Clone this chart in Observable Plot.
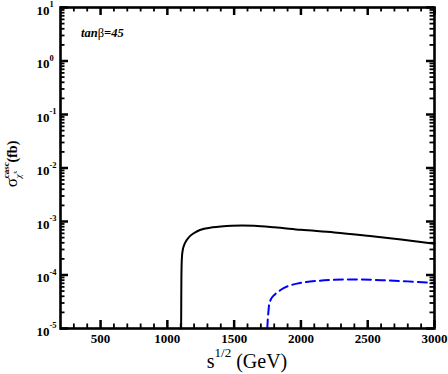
<!DOCTYPE html>
<html>
<head>
<meta charset="utf-8">
<script src="https://cdn.jsdelivr.net/npm/d3@7"></script>
<script src="https://cdn.jsdelivr.net/npm/@observablehq/plot@0.6"></script>
<style>
  html, body { margin: 0; padding: 0; background: #fff; }
  #chart svg { display: block; }
</style>
</head>
<body>
<div id="chart"></div>
<script>
// Solid black curve (sqrt(s) in GeV, sigma in fb)
const blackX = [1103, 1104, 1105, 1107, 1110, 1115, 1125, 1145, 1175, 1220, 1275, 1340, 1400, 1480, 1560, 1650, 1800, 2000, 2250, 2500, 2750, 3000];
const blackY = [1e-5, 3e-5, 8e-5, 1.6e-4, 2.3e-4, 2.9e-4, 3.6e-4, 4.5e-4, 5.5e-4, 6.5e-4, 7.3e-4, 7.8e-4, 8.1e-4, 8.35e-4, 8.4e-4, 8.3e-4, 7.8e-4, 7.0e-4, 6.25e-4, 5.4e-4, 4.6e-4, 3.85e-4];
// Dashed blue curve
const blueX = [1748, 1752, 1757, 1762, 1775, 1795, 1812, 1850, 1910, 1970, 2040, 2130, 2240, 2350, 2450, 2600, 2800, 3000];
const blueY = [1e-5, 1.5e-5, 2.1e-5, 2.8e-5, 3.5e-5, 4.1e-5, 4.5e-5, 5.3e-5, 6.3e-5, 6.9e-5, 7.4e-5, 7.8e-5, 8.1e-5, 8.25e-5, 8.25e-5, 8.0e-5, 7.6e-5, 7.1e-5];

// Ticks
const xDomain = [200, 3000];
const xMajor = [500, 1000, 1500, 2000, 2500, 3000];
const xMinor = [300, 400, 600, 700, 800, 900, 1100, 1200, 1300, 1400, 1600, 1700, 1800, 1900, 2100, 2200, 2300, 2400, 2600, 2700, 2800, 2900];
const yDomain = [1e-5, 10];
const yMajor = [1e-5, 1e-4, 1e-3, 1e-2, 1e-1, 1, 10];
const yMinorMantissa = [2, 3, 4, 5, 6, 7, 8, 9];
const yMinor = yMajor.slice(0, -1).flatMap(p => yMinorMantissa.map(m => m * p));

const black = blackX.map((x, i) => ({x, y: blackY[i]}));
const blue = blueX.map((x, i) => ({x, y: blueY[i]}));

const font = "Liberation Serif, Times New Roman, serif";

const W = 448, H = 374, mL = 60, mR = 14, mT = 7, mB = 46;
const fw = W - mL - mR, fh = H - mT - mB;
const majLen = 8, minLen = 4.5;

// tick lengths expressed in data units of each scale
const decades = Math.log10(yDomain[1] / yDomain[0]);
const yFactor = len => Math.pow(10, len * decades / fh);
const xSpan = len => len * (xDomain[1] - xDomain[0]) / fw;

const tickStyle = (w) => ({stroke: "#000", strokeWidth: w});

const plot = Plot.plot({
  width: W,
  height: H,
  marginLeft: mL,
  marginRight: mR,
  marginTop: mT,
  marginBottom: mB,
  style: {fontFamily: font, background: "#fff", color: "#000"},
  x: {type: "linear", domain: xDomain},
  y: {type: "log", domain: yDomain, axis: null},
  marks: [
    // curves
    Plot.line(black, {x: "x", y: "y", stroke: "#000", strokeWidth: 2, curve: "monotone-x"}),
    Plot.line(blue, {x: "x", y: "y", stroke: "#0000ff", strokeWidth: 2, strokeDasharray: "9,5", curve: "monotone-x"}),
    // inward ticks, bottom and top
    Plot.ruleX(xMinor, {x: d => d, y1: () => yDomain[0], y2: () => yDomain[0] * yFactor(minLen), ...tickStyle(1.8)}),
    Plot.ruleX(xMinor, {x: d => d, y1: () => yDomain[1] / yFactor(minLen), y2: () => yDomain[1], ...tickStyle(1.8)}),
    Plot.ruleX(xMajor, {x: d => d, y1: () => yDomain[0], y2: () => yDomain[0] * yFactor(majLen), ...tickStyle(2.5)}),
    Plot.ruleX(xMajor, {x: d => d, y1: () => yDomain[1] / yFactor(majLen), y2: () => yDomain[1], ...tickStyle(2.5)}),
    // inward ticks, left and right
    Plot.ruleY(yMinor, {y: d => d, x1: () => xDomain[0], x2: () => xDomain[0] + xSpan(minLen), ...tickStyle(1.8)}),
    Plot.ruleY(yMinor, {y: d => d, x1: () => xDomain[1] - xSpan(minLen), x2: () => xDomain[1], ...tickStyle(1.8)}),
    Plot.ruleY(yMajor, {y: d => d, x1: () => xDomain[0], x2: () => xDomain[0] + xSpan(majLen), ...tickStyle(2.5)}),
    Plot.ruleY(yMajor, {y: d => d, x1: () => xDomain[1] - xSpan(majLen), x2: () => xDomain[1], ...tickStyle(2.5)}),
    // x tick labels
    Plot.axisX(xMajor, {anchor: "bottom", tickSize: 0, tickPadding: 5, fontSize: 13, fontWeight: "bold", label: null, tickFormat: d => String(d)}),
    // y tick labels: "10" plus exponent
    Plot.text(yMajor, {y: d => d, frameAnchor: "left", text: () => "10", textAnchor: "end", dx: -11, dy: 3, fontSize: 13, fontWeight: "bold"}),
    Plot.text(yMajor, {y: d => d, frameAnchor: "left", text: d => String(Math.round(Math.log10(d))), textAnchor: "start", dx: -11, dy: -3, fontSize: 8.5, fontWeight: "bold"}),
    Plot.frame({stroke: "#000", strokeWidth: 2.6})
  ]
});

document.getElementById("chart").appendChild(plot);

// Titles with super/subscripts
const svg = d3.select(plot);
// x title: s^{1/2} (GeV)
const xt = svg.append("text")
  .attr("x", 247).attr("y", 368)
  .attr("text-anchor", "middle")
  .attr("font-family", font).attr("font-size", 20).attr("fill", "#000");
xt.append("tspan").text("s");
xt.append("tspan").attr("font-size", 13).attr("dy", -11).text("1/2");
xt.append("tspan").attr("dy", 11).text(" (GeV)");

// y title: sigma_{chi~+}^{casc} (fb), rotated
const yt = svg.append("text")
  .attr("transform", "translate(17,164) rotate(-90)")
  .attr("text-anchor", "middle")
  .attr("font-family", font).attr("fill", "#000");
yt.append("tspan").attr("font-size", 17).text("σ");
yt.append("tspan").attr("font-size", 9).attr("font-weight", "bold").attr("dy", -8).text("casc");
yt.append("tspan").attr("font-size", 9).attr("font-style", "italic").attr("dx", -16).attr("dy", 12).text("χ̃");
yt.append("tspan").attr("font-size", 6.5).attr("dy", -4).text("+");
yt.append("tspan").attr("font-size", 14).attr("font-weight", "bold").attr("dx", 8).attr("dy", 0).text("(fb)");

// annotation: tan beta = 45
const ann = svg.append("text")
  .attr("x", 81).attr("y", 37)
  .attr("text-anchor", "start")
  .attr("font-family", font).attr("font-size", 12.5).attr("fill", "#000");
ann.append("tspan").attr("font-style", "italic").attr("font-weight", "bold").text("tan");
ann.append("tspan").text("β");
ann.append("tspan").attr("font-style", "italic").attr("font-weight", "bold").text("=45");
</script>
</body>
</html>
